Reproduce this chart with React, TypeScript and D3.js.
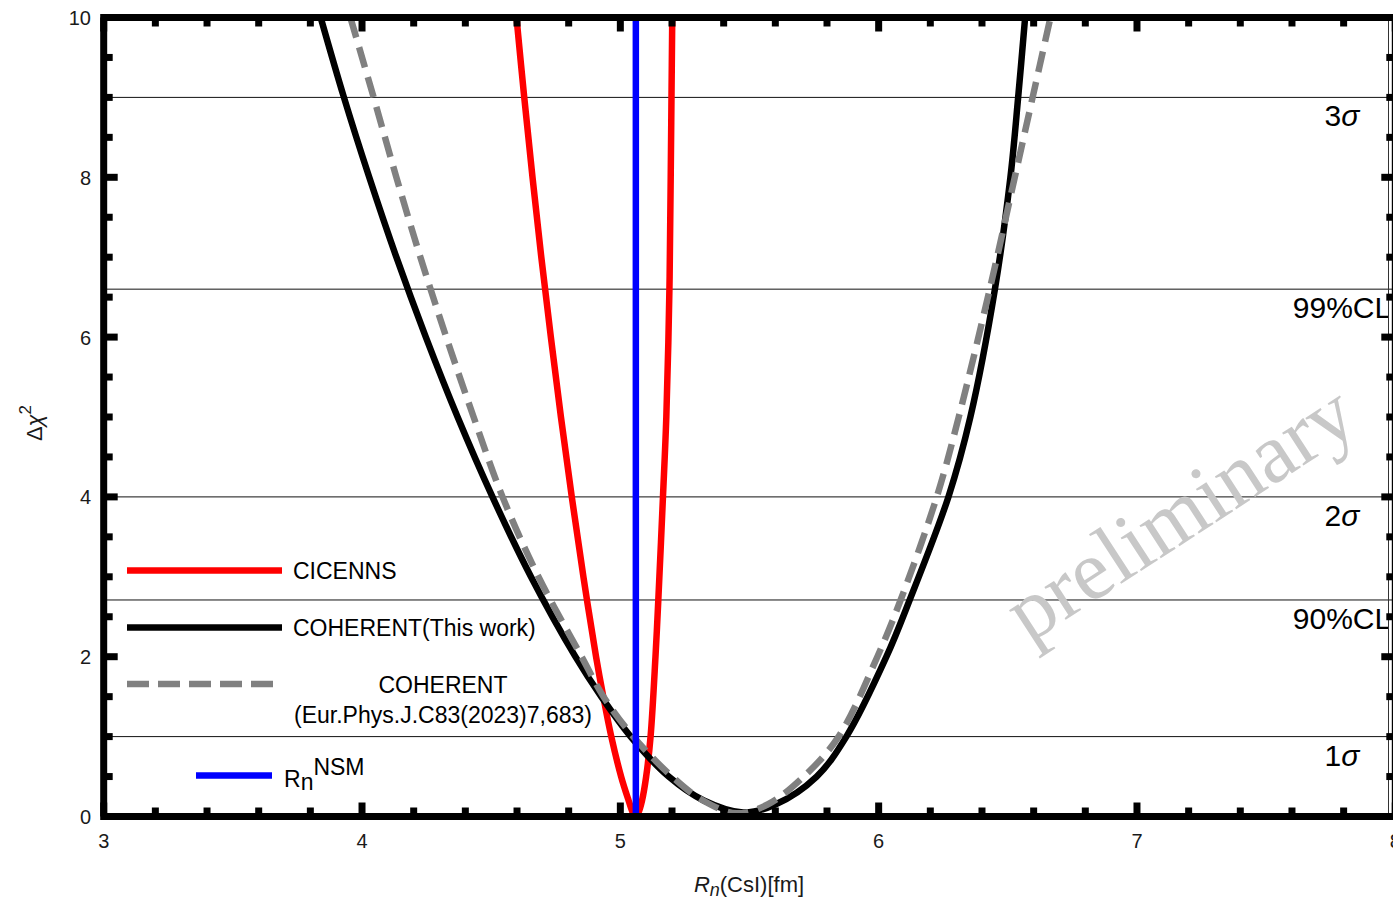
import * as d3 from "d3";

const W = 1393;
const H = 901;

// Δχ² curves (x = Rn in fm, y = Δχ²)
const cicennsX = [4.598, 4.628, 4.66, 4.694, 4.731, 4.77, 4.812, 4.857, 4.906, 4.934, 4.965, 5.003, 5.032, 5.048, 5.058, 5.07, 5.084, 5.1, 5.117, 5.136, 5.147, 5.165, 5.178, 5.19, 5.195, 5.198, 5.201];
const cicennsY = [10, 9, 8, 7, 6, 5, 4, 3, 2, 1.5, 1, 0.5, 0.2, 0.05, 0, 0.05, 0.2, 0.5, 1, 2, 2.71, 4, 5, 6.6, 8, 9, 10];

const thisWorkX = [3.84, 3.93, 4.028, 4.133, 4.247, 4.37, 4.505, 4.654, 4.826, 4.926, 5.04, 5.187, 5.323, 5.475, 5.6, 5.76, 5.875, 6.03, 6.12, 6.27, 6.355, 6.45, 6.51, 6.54, 6.567];
const thisWorkY = [10, 9, 8, 7, 6, 5, 4, 3, 2, 1.5, 1, 0.5, 0.2, 0.05, 0.15, 0.5, 1, 2, 2.71, 4, 5, 6.6, 8, 9, 10];

const epjcX = [3.955, 4.045, 4.133, 4.226, 4.326, 4.432, 4.544, 4.683, 4.85, 4.935, 5.05, 5.2, 5.32, 5.45, 5.57, 5.71, 5.845, 5.995, 6.085, 6.225, 6.31, 6.43, 6.527, 6.596, 6.665];
const epjcY = [10, 9, 8, 7, 6, 5, 4, 3, 2, 1.5, 1, 0.5, 0.2, 0.04, 0.15, 0.5, 1, 2, 2.71, 4, 5, 6.6, 8, 9, 10];

const rnNSM = 5.06;

// confidence levels
const levelValues = [9, 6.6, 4, 2.71, 1];
const levelLabels = ["3σ", "99%CL", "2σ", "90%CL", "1σ"];

const xTicks = [3, 4, 5, 6, 7, 8];
const yTicks = [0, 2, 4, 6, 8, 10];

const FONT = "'Liberation Sans', Arial, Helvetica, sans-serif";

const x = d3.scaleLinear().domain([3, 8]).range([103.7, 1395.3]);
const y = d3.scaleLinear().domain([0, 10]).range([816.5, 17.5]);

const line = d3
  .line<[number, number]>()
  .x((d) => x(d[0]))
  .y((d) => y(d[1]))
  .curve(d3.curveCatmullRom.alpha(0.5));

const zip = (xs: number[], ys: number[]) => xs.map((v, i) => [v, ys[i]] as [number, number]);

function Sigma({ n }: { n: string }) {
  return (
    <>
      {n}
      <tspan fontStyle="italic">σ</tspan>
    </>
  );
}

export default function App() {
  const x0 = x(3);
  const x1 = x(8);
  const y0 = y(0);
  const y1 = y(10);

  const xMinor = d3.range(3, 8.0001, 0.2).filter((v) => Math.abs(v - Math.round(v)) > 1e-6);
  const yMinor = d3.range(0, 10.0001, 0.5).filter((v) => Math.abs(v / 2 - Math.round(v / 2)) > 1e-6);

  const frame = 7;

  return (
    <svg
      width={W}
      height={H}
      viewBox={`0 0 ${W} ${H}`}
      style={{ position: "absolute", left: 0, top: 0, background: "#fff" }}
      fontFamily={FONT}
    >
      <defs>
        <clipPath id="plot">
          <rect x={x0} y={y1} width={x1 - x0} height={y0 - y1} />
        </clipPath>
        <clipPath id="edge">
          <rect x={0} y={0} width={1388.5} height={H} />
        </clipPath>
      </defs>

      {/* horizontal level lines */}
      {levelValues.map((v) => (
        <line key={v} x1={x0} x2={W} y1={y(v)} y2={y(v)} stroke="#111" strokeWidth={1} />
      ))}

      <g clipPath="url(#plot)" fill="none" strokeWidth={6.5}>
        <path d={line(zip(cicennsX, cicennsY)) ?? ""} stroke="#ff0000" />
        <path d={line(zip(thisWorkX, thisWorkY)) ?? ""} stroke="#000" />
        <path d={line(zip(epjcX, epjcY)) ?? ""} stroke="#808080" strokeDasharray="21,10" />
        <line x1={x(rnNSM)} x2={x(rnNSM)} y1={y0} y2={y1} stroke="#0000ff" />
      </g>

      {/* level labels */}
      <g clipPath="url(#edge)" fontSize={30} textAnchor="middle" fill="#000">
        {levelValues.map((v, i) => (
          <text key={v} x={1342} y={y(v) + 29}>
            {levelLabels[i].endsWith("σ") ? <Sigma n={levelLabels[i].slice(0, -1)} /> : levelLabels[i]}
          </text>
        ))}
      </g>
      <line x1={1388.5} x2={1388.5} y1={y1} y2={y0} stroke="#333" strokeWidth={1} />

      {/* frame */}
      <rect x={x0} y={y1} width={x1 - x0} height={y0 - y1} fill="none" stroke="#000" strokeWidth={frame} />

      {/* ticks */}
      <g stroke="#000" strokeWidth={frame}>
        {xTicks.map((v) => (
          <g key={"xt" + v}>
            <line x1={x(v)} x2={x(v)} y1={y0} y2={y0 - 14} />
            <line x1={x(v)} x2={x(v)} y1={y1} y2={y1 + 14} />
          </g>
        ))}
        {xMinor.map((v) => (
          <g key={"xm" + v}>
            <line x1={x(v)} x2={x(v)} y1={y0} y2={y0 - 9} />
            <line x1={x(v)} x2={x(v)} y1={y1} y2={y1 + 9} />
          </g>
        ))}
        {yTicks.map((v) => (
          <g key={"yt" + v}>
            <line x1={x0} x2={x0 + 14} y1={y(v)} y2={y(v)} />
            <line x1={x1} x2={x1 - 14} y1={y(v)} y2={y(v)} />
          </g>
        ))}
        {yMinor.map((v) => (
          <g key={"ym" + v}>
            <line x1={x0} x2={x0 + 9} y1={y(v)} y2={y(v)} />
            <line x1={x1} x2={x1 - 9} y1={y(v)} y2={y(v)} />
          </g>
        ))}
      </g>

      {/* tick labels */}
      <g fontSize={20} fill="#1a1a1a">
        {xTicks.map((v) => (
          <text key={"xl" + v} x={x(v)} y={848} textAnchor="middle">
            {v}
          </text>
        ))}
        {yTicks.map((v) => (
          <text key={"yl" + v} x={91} y={y(v) + 7.5} textAnchor="end">
            {v}
          </text>
        ))}
      </g>

      {/* axis titles */}
      <text x={749} y={892} fontSize={22} textAnchor="middle" fill="#1a1a1a">
        <tspan fontStyle="italic">R</tspan>
        <tspan fontStyle="italic" fontSize={18} dy={4}>n</tspan>
        <tspan dy={-4}>(CsI)[fm]</tspan>
      </text>
      <text transform="translate(42,423) rotate(-90)" fontSize={22} textAnchor="middle" fill="#1a1a1a">
        Δ<tspan fontStyle="italic">χ</tspan>
        <tspan fontSize={17} dy={-11}>2</tspan>
      </text>

      {/* legend */}
      <g fontSize={23} fill="#000">
        <line x1={127} x2={282} y1={570.5} y2={570.5} stroke="#ff0000" strokeWidth={6.5} />
        <text x={293} y={579}>CICENNS</text>

        <line x1={127} x2={282} y1={627.5} y2={627.5} stroke="#000" strokeWidth={6.5} />
        <text x={293} y={636}>COHERENT(This work)</text>

        <line x1={127} x2={273} y1={684} y2={684} stroke="#808080" strokeWidth={6.5} strokeDasharray="22,9" />
        <text x={443} y={693} textAnchor="middle">COHERENT</text>
        <text x={443} y={723} textAnchor="middle">(Eur.Phys.J.C83(2023)7,683)</text>

        <line x1={196} x2={272} y1={775.5} y2={775.5} stroke="#0000ff" strokeWidth={6.5} />
        <text x={284} y={787}>
          R<tspan dy={3}>n</tspan>
          <tspan dy={-15}>NSM</tspan>
        </text>
      </g>

      {/* watermark */}
      <text
        transform="translate(1195,536) rotate(-33)"
        fontFamily="'Liberation Serif', 'Times New Roman', serif"
        fontSize={85}
        textAnchor="middle"
        fill="#c8c8c8"
      >
        preliminary
      </text>
    </svg>
  );
}
